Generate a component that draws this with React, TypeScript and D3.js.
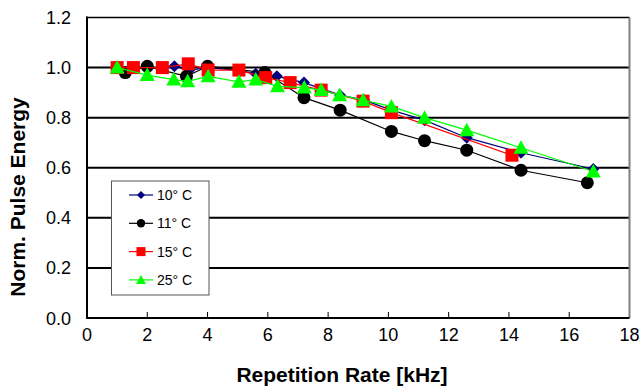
import React from "react";
import * as d3 from "d3";

const xTicks = [0, 2, 4, 6, 8, 10, 12, 14, 16, 18];
const yTicks = [0, 0.2, 0.4, 0.6, 0.8, 1.0, 1.2];

const x10 = [1.0, 1.5, 2.0, 2.5, 2.9, 3.4, 4.0, 5.0, 5.6, 6.3, 7.2, 8.4, 9.2, 10.1, 11.2, 12.6, 14.4, 16.8];
const y10 = [1.0, 1.0, 1.0, 1.0, 1.005, 0.99, 1.0, 0.99, 0.975, 0.965, 0.94, 0.89, 0.87, 0.83, 0.79, 0.72, 0.66, 0.595];

const x11 = [1.27, 2.0, 3.3, 4.0, 5.9, 7.2, 8.4, 10.1, 11.2, 12.6, 14.4, 16.6];
const y11 = [0.98, 1.005, 0.965, 1.005, 0.98, 0.88, 0.83, 0.745, 0.708, 0.67, 0.59, 0.54];

const x15 = [1.0, 1.54, 2.5, 3.36, 4.02, 5.04, 5.93, 6.74, 7.77, 9.16, 10.1, 14.1];
const y15 = [1.0, 1.0, 1.0, 1.015, 0.99, 0.99, 0.96, 0.94, 0.91, 0.866, 0.82, 0.65];

const x25 = [1.0, 2.0, 2.88, 3.34, 4.02, 5.04, 5.6, 6.32, 7.21, 7.77, 8.38, 9.16, 10.1, 11.2, 12.6, 14.4, 16.8];
const y25 = [1.0, 0.97, 0.952, 0.945, 0.965, 0.943, 0.952, 0.925, 0.92, 0.91, 0.89, 0.87, 0.845, 0.8, 0.75, 0.68, 0.585];

const seriesNames = ["10° C", "11° C", "15° C", "25° C"];
const seriesColors = ["#000080", "#000000", "#ff0000", "#00ff00"];
const seriesShapes = ["diamond", "circle", "square", "triangle"];
const seriesX = [x10, x11, x15, x25];
const seriesY = [y10, y11, y15, y25];

const W = 641, H = 387;
const M = { left: 87, right: 629.5, top: 17.5, bottom: 318 };

function Marker({ shape, cx, cy, color }: { shape: string; cx: number; cy: number; color: string }) {
  if (shape === "diamond") {
    const r = 6;
    return <path d={`M${cx},${cy - r}L${cx + r},${cy}L${cx},${cy + r}L${cx - r},${cy}Z`} fill={color} />;
  }
  if (shape === "circle") return <circle cx={cx} cy={cy} r={6.5} fill={color} />;
  if (shape === "square") return <rect x={cx - 6.5} y={cy - 6.5} width={13} height={13} fill={color} />;
  const s = 7.5;
  return <path d={`M${cx},${cy - s}L${cx + s},${cy + s * 0.8}L${cx - s},${cy + s * 0.8}Z`} fill={color} />;
}

function LegendMarker({ shape, cx, cy, color }: { shape: string; cx: number; cy: number; color: string }) {
  if (shape === "diamond") {
    const r = 4;
    return <path d={`M${cx},${cy - r}L${cx + r},${cy}L${cx},${cy + r}L${cx - r},${cy}Z`} fill={color} />;
  }
  if (shape === "circle") return <circle cx={cx} cy={cy} r={4.2} fill={color} />;
  if (shape === "square") return <rect x={cx - 4.5} y={cy - 4.5} width={9} height={9} fill={color} />;
  const s = 5;
  return <path d={`M${cx},${cy - s}L${cx + s},${cy + s * 0.8}L${cx - s},${cy + s * 0.8}Z`} fill={color} />;
}

export default function App() {
  const xs = d3.scaleLinear().domain([0, 18]).range([M.left, M.right]);
  const ys = d3.scaleLinear().domain([0, 1.2]).range([M.bottom, M.top]);
  const line = d3.line<[number, number]>().x(d => xs(d[0])).y(d => ys(d[1]));
  const font = "Liberation Sans, Arial, Helvetica, sans-serif";

  return (
    <svg width={W} height={H} style={{ position: "absolute", left: 0, top: 0, background: "#fff" }} fontFamily={font}>
      {/* gridlines */}
      {yTicks.filter(t => t > 0 && t < 1.2).map(t => (
        <line key={t} x1={M.left} x2={M.right} y1={ys(t)} y2={ys(t)} stroke="#000" strokeWidth={2} />
      ))}
      {/* frame */}
      <line x1={M.left} x2={M.right} y1={M.top} y2={M.top} stroke="#000" strokeWidth={1.5} />
      <line x1={M.right} x2={M.right} y1={M.top} y2={M.bottom} stroke="#808080" strokeWidth={2} />
      <line x1={M.left} x2={M.left} y1={M.top - 1} y2={M.bottom + 1} stroke="#000" strokeWidth={2} />
      <line x1={M.left - 1} x2={M.right} y1={M.bottom} y2={M.bottom} stroke="#000" strokeWidth={2} />
      {/* x ticks */}
      {xTicks.map(t => (
        <g key={t}>
          {t > 0 && t < 18 && <line x1={xs(t)} x2={xs(t)} y1={M.bottom} y2={M.bottom - 6} stroke="#000" strokeWidth={1} />}
          <text x={xs(t)} y={340.5} textAnchor="middle" fontSize={18}>{t}</text>
        </g>
      ))}
      {yTicks.map(t => (
        <text key={t} x={71} y={ys(t) + 6.5} textAnchor="end" fontSize={18}>{t.toFixed(1)}</text>
      ))}
      {/* axis titles */}
      <text x={342} y={382} textAnchor="middle" fontSize={21} fontWeight="bold">Repetition Rate [kHz]</text>
      <text transform={`translate(25,${197}) rotate(-90)`} textAnchor="middle" fontSize={21} fontWeight="bold">Norm. Pulse Energy</text>
      {/* series */}
      {seriesX.map((xsArr, i) => {
        const pts: [number, number][] = xsArr.map((v, j) => [v, seriesY[i][j]]);
        return (
          <g key={i}>
            <path d={line(pts) || ""} fill="none" stroke={seriesColors[i]} strokeWidth={1.2} />
            {pts.map((p, j) => (
              <Marker key={j} shape={seriesShapes[i]} cx={xs(p[0])} cy={ys(p[1])} color={seriesColors[i]} />
            ))}
          </g>
        );
      })}
      {/* legend */}
      <rect x={111.5} y={181} width={97.5} height={114} fill="#fff" stroke="#555" strokeWidth={1} />
      {seriesNames.map((n, i) => {
        const cy = 195 + i * 28.3;
        return (
          <g key={n}>
            <line x1={129} x2={153} y1={cy} y2={cy} stroke={seriesColors[i]} strokeWidth={1.2} />
            <LegendMarker shape={seriesShapes[i]} cx={141} cy={cy} color={seriesColors[i]} />
            <text x={157} y={cy + 5} fontSize={14}>{n}</text>
          </g>
        );
      })}
    </svg>
  );
}
